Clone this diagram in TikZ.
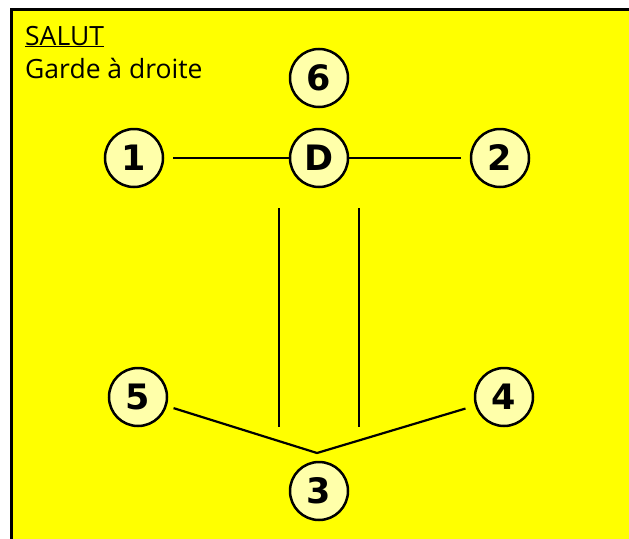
\documentclass[tikz,border=0pt]{standalone}
\usepackage{fontspec}
\setmainfont{Open Sans}
\newfontfamily\chiffres{DejaVu Sans}
\definecolor{paleyellow}{RGB}{255,255,170}
\definecolor{fond}{RGB}{255,255,0}
\begin{document}
\begin{tikzpicture}[x=1pt,y=-1pt,
  spot/.style={circle,draw,line width=2.5pt,fill=paleyellow,minimum size=58pt,inner sep=0pt,font=\chiffres\fontsize{35}{35}\selectfont\bfseries},
  link/.style={line width=2.2pt}]
\useasboundingbox (0,0) rectangle (629,538);
\clip (0,0) rectangle (629,538);
\draw[line width=3pt,fill=fond] (11,9) rectangle (660,570);
\node[anchor=base west,inner sep=0pt,font=\fontsize{26.5}{28}\selectfont] (titre) at (25,45) {\underline{SALUT}};
\node[anchor=base west,inner sep=0pt,font=\fontsize{26.5}{28}\selectfont] (garde) at (25,78) {Garde à droite};
\node[spot] (n6) at (319,78) {6};
\node[spot] (n1) at (134,158) {1};
\node[spot] (nD) at (319,158) {D};
\node[spot] (n2) at (500,158) {2};
\node[spot] (n5) at (138,397) {5};
\node[spot] (n4) at (504,397) {4};
\node[spot] (n3) at (319,491) {3};
\coordinate (pointe) at (317,453);
\coordinate (gh) at (279,208);
\coordinate (gb) at (279,427);
\coordinate (dh) at (359,208);
\coordinate (db) at (359,427);
\draw[link,shorten <=9pt] (n1) -- (nD);
\draw[link,shorten >=9pt] (nD) -- (n2);
\draw[link] (gh) -- (gb);
\draw[link] (dh) -- (db);
\draw[link,shorten <=7pt] (n5) -- (pointe);
\draw[link,shorten >=10pt] (pointe) -- (n4);
\end{tikzpicture}
\end{document}
